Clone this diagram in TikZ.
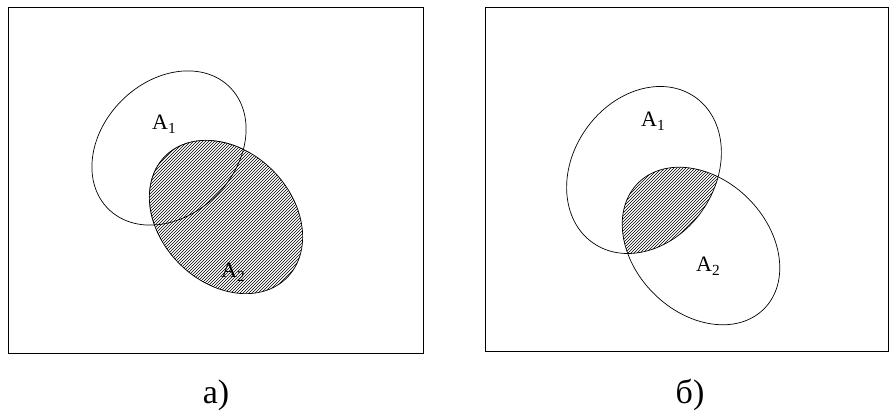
\documentclass[tikz,border=0pt]{standalone}
\usepackage{fontspec}
\setmainfont{Liberation Serif}
\usetikzlibrary{patterns}

\begin{document}
\begin{tikzpicture}[x=1pt,y=1pt,
cadre/.style={draw,line width=1.2pt},
contour/.style={draw,line width=0.7pt},
hach/.style={pattern=north east lines}]

\tikzset{ens/.style={inner sep=0pt,anchor=base west,font=\fontsize{22}{22}\selectfont},
         legende/.style={inner sep=0pt,anchor=base,font=\fontsize{34}{34}\selectfont}}

\useasboundingbox (0,0) rectangle (889,410);

% a) : A2 hachure entierement
\node[cadre,inner sep=0pt,minimum width=415,minimum height=345.5,anchor=south west] (cadreG) at (8,56) {};
\path[hach,rotate around={-45:(226,193)}] (226,193) ellipse [x radius=86,y radius=66];
\draw[contour,rotate around={45:(169,262)}] (169,262) ellipse [x radius=86,y radius=67];
\begin{scope}
  \clip[rotate around={45:(169,262)}] (169,262) ellipse [x radius=86,y radius=67];
  \draw[contour,densely dotted,rotate around={-45:(226,193)}] (226,193) ellipse [x radius=86,y radius=66];
\end{scope}
\begin{scope}
  \begin{scope}[rotate around={45:(169,262)}]
    \clip (-2000,-2000) -- (-2000,3000) -- (3000,3000) -- (3000,-2000) -- cycle
          (169,262) ellipse [x radius=86,y radius=67];
  \end{scope}
  \draw[contour,rotate around={-45:(226,193)}] (226,193) ellipse [x radius=86,y radius=66];
\end{scope}
\node[ens] (A1g) at (152,280) {A\textsubscript{1}};
\node[ens] (A2g) at (221,132) {A\textsubscript{2}};
\node[legende] (legG) at (216,7) {а)};

% b) : intersection seulement
\node[cadre,inner sep=0pt,minimum width=403,minimum height=343.5,anchor=south west] (cadreD) at (485,58) {};
\begin{scope}
  \clip[rotate around={55:(644,240)}] (644,240) ellipse [x radius=89,y radius=71];
  \path[hach,rotate around={-45:(701,164)}] (701,164) ellipse [x radius=89,y radius=67];
\end{scope}
\draw[contour,rotate around={55:(644,240)}] (644,240) ellipse [x radius=89,y radius=71];
\draw[contour,rotate around={-45:(701,164)}] (701,164) ellipse [x radius=89,y radius=67];
\node[ens] (A1d) at (641,283) {A\textsubscript{1}};
\node[ens] (A2d) at (696,138) {A\textsubscript{2}};
\node[legende] (legD) at (690,7) {б)};
\end{tikzpicture}
\end{document}
